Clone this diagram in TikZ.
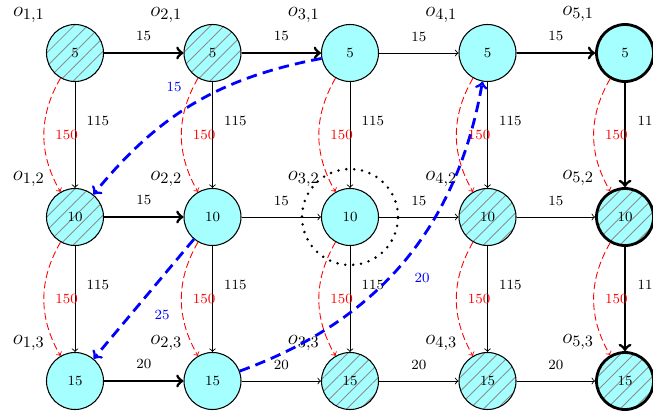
\documentclass[tikz,border=0pt]{standalone}
\usepackage{amsmath, amssymb}
\usepackage{tikz}
\usetikzlibrary{arrows,positioning,patterns.meta}

\definecolor{nodefill}{RGB}{166,255,255}
\definecolor{hatchgray}{RGB}{140,140,140}
\definecolor{altred}{RGB}{255,0,0}
\definecolor{jumpblue}{RGB}{0,0,255}

\begin{document}
\begin{tikzpicture}[
    node distance=3.28cm and 2.75cm, on grid,
    >=to,
    state/.style={circle, draw, line width=0.6pt, fill=nodefill, minimum size=1.14cm, inner sep=0pt, font=\footnotesize},
    hatched/.style={preaction={fill=nodefill}, pattern={Lines[angle=45,distance=5.5pt,line width=0.5pt]}, pattern color=hatchgray},
    goal/.style={line width=1.6pt},
    tag/.style={label={[font=\fontsize{13}{15}\selectfont, label distance=3pt]135:#1}},
    arrow/.style={->, line width=0.5pt},
    bold/.style={->, line width=1.6pt},
    lbl/.style={font=\footnotesize},
    alt/.style={->, altred, line width=0.5pt, dash pattern=on 4pt off 2pt, bend right=30},
    jump/.style={->, jumpblue, line width=1.6pt, dash pattern=on 6pt off 3.5pt}
]
    \useasboundingbox (0,0) rectangle (13.06,8.28);

    % nodes
    \node (o11) [state, hatched, tag={$o_{1,1}$}] at (1.5,7.22) {5};
    \node (o21) [state, hatched, tag={$o_{2,1}$}, right=of o11] {5};
    \node (o31) [state, tag={$o_{3,1}$}, right=of o21] {5};
    \node (o41) [state, tag={$o_{4,1}$}, right=of o31] {5};
    \node (o51) [state, goal, tag={$o_{5,1}$}, right=of o41] {5};

    \node (o12) [state, hatched, tag={$o_{1,2}$}, below=of o11] {10};
    \node (o22) [state, tag={$o_{2,2}$}, below=of o21] {10};
    \node (o32) [state, tag={$o_{3,2}$}, below=of o31] {10};
    \node (o42) [state, hatched, tag={$o_{4,2}$}, below=of o41] {10};
    \node (o52) [state, hatched, goal, tag={$o_{5,2}$}, below=of o51] {10};

    \node (o13) [state, tag={$o_{1,3}$}, below=of o12] {15};
    \node (o23) [state, tag={$o_{2,3}$}, below=of o22] {15};
    \node (o33) [state, hatched, tag={$o_{3,3}$}, below=of o32] {15};
    \node (o43) [state, hatched, tag={$o_{4,3}$}, below=of o42] {15};
    \node (o53) [state, hatched, goal, tag={$o_{5,3}$}, below=of o52] {15};

    % horizontal edges
    \draw [bold] (o11) -- node[lbl, above=3pt] {15} (o21);
    \draw [bold] (o21) -- node[lbl, above=3pt] {15} (o31);
    \draw [arrow] (o31) -- node[lbl, above=3pt] {15} (o41);
    \draw [bold] (o41) -- node[lbl, above=3pt] {15} (o51);

    \draw [bold] (o12) -- node[lbl, above=3pt] {15} (o22);
    \draw [arrow] (o22) -- node[lbl, above=3pt] {15} (o32);
    \draw [arrow] (o32) -- node[lbl, above=3pt] {15} (o42);
    \draw [arrow] (o42) -- node[lbl, above=3pt] {15} (o52);

    \draw [bold] (o13) -- node[lbl, above=3pt] {20} (o23);
    \draw [arrow] (o23) -- node[lbl, above=3pt] {20} (o33);
    \draw [arrow] (o33) -- node[lbl, above=3pt] {20} (o43);
    \draw [arrow] (o43) -- node[lbl, above=3pt] {20} (o53);

    % vertical edges
    \foreach \c in {1,2,3,4} {
        \draw [arrow] (o\c1) -- node[lbl, pos=0.37, right=3pt] {115} (o\c2);
        \draw [arrow] (o\c2) -- node[lbl, pos=0.37, right=3pt] {115} (o\c3);
    }
    \draw [bold] (o51) -- node[lbl, pos=0.37, right=3pt] {115} (o52);
    \draw [bold] (o52) -- node[lbl, pos=0.37, right=3pt] {115} (o53);

    % alternative edges
    \foreach \c in {1,...,5} {
        \draw [alt] (o\c1) to node[lbl, right=3pt] {150} (o\c2);
        \draw [alt] (o\c2) to node[lbl, right=3pt] {150} (o\c3);
    }

    % jumps
    \draw [jump] (o31) to[bend right=20] node[lbl, above left=4pt] {15} (o12);
    \draw [jump] (o22) -- node[lbl, below right=3pt] {25} (o13);
    \draw [jump] (o23) to[bend right=30] node[lbl, below right=3pt] {20} (o41);

    % current node
    \node (ring) [circle, draw, minimum size=1.92cm, line width=1.6pt, dash pattern=on 0pt off 4.5pt, line cap=round] at (o32) {};
\end{tikzpicture}
\end{document}
